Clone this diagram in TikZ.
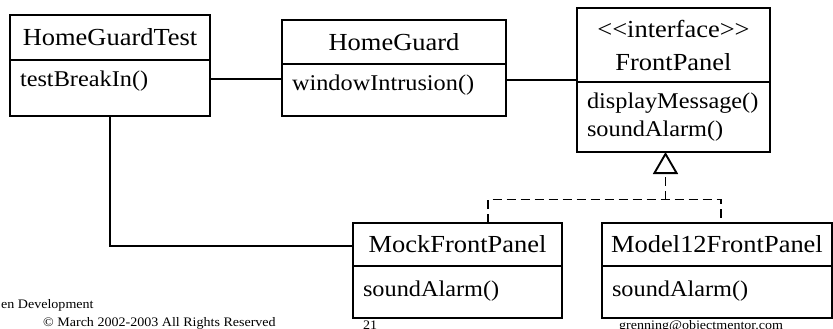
\documentclass[tikz,border=0pt]{standalone}
\usepackage{fontspec}
\setmainfont{Liberation Serif}[FakeStretch=1.08]
\usetikzlibrary{positioning}
\usetikzlibrary{arrows.meta}

\begin{document}
\begin{tikzpicture}[x=1pt,y=-1pt,
    umlhead/.style={draw,line width=1.9pt,outer sep=0pt,anchor=north west,
      inner sep=3pt,align=center,font=\fontsize{24.5}{28}\selectfont},
    umlbody/.style={draw,line width=1.9pt,outer sep=0pt,align=left,
      inner xsep=10pt,inner ysep=0pt,font=\fontsize{22.5}{28}\selectfont},
    assoc/.style={line width=1.9pt},
    realize/.style={line width=1.9pt,dash pattern=on 9pt off 5pt},
    implements/.style={realize,-{Triangle[open,width=25pt,length=22pt]}},
    footer/.style={anchor=base west,inner sep=0pt,font=\fontsize{13}{15}\selectfont}]
  \useasboundingbox (0,0) rectangle (833,329);

  % classes
  \node[umlhead,minimum width=200pt,minimum height=45pt] (hgt) at (10,15) {HomeGuardTest};
  \node[umlbody,below=0pt of hgt,text width=180pt,text height=26pt,text depth=30pt] (hgtops) {testBreakIn()};

  \node[umlhead,minimum width=224pt,minimum height=44pt] (hg) at (282,20) {HomeGuard};
  \node[umlbody,below=0pt of hg,text width=204pt,text height=26pt,text depth=26pt] (hgops) {windowIntrusion()};

  \node[umlhead,minimum width=193pt,minimum height=74pt] (fp) at (577,8) {{<}{<}interface{>}{>}\\[5pt]FrontPanel};
  \node[umlbody,below=0pt of fp,text width=173pt,minimum height=70pt] (fpops) {displayMessage()\\soundAlarm()};

  \node[umlhead,minimum width=209pt,minimum height=43pt] (mock) at (353,223) {MockFrontPanel};
  \node[umlbody,below=0pt of mock,text width=189pt,text height=30pt,text depth=22pt] (mockops) {soundAlarm()};

  \node[umlhead,minimum width=230pt,minimum height=43pt] (model) at (602,223) {Model12FrontPanel};
  \node[umlbody,below=0pt of model,text width=210pt,text height=30pt,text depth=22pt] (modelops) {soundAlarm()};

  % connectors
  \draw[assoc] ([yshift=9pt]hgtops.east) -- ([yshift=9pt]hgtops.east -| hgops.west);
  \draw[assoc] ([yshift=10pt]hgops.east) -- ([yshift=10pt]hgops.east -| fpops.west);
  \draw[assoc] (hgtops.south) |- ([yshift=-1.5pt]mock.west);

  \coordinate (join) at (665.5,199.5);
  \draw[realize] ([xshift=30.5pt]mock.north) |- (join) -| ([xshift=4pt]model.north);
  \draw[implements] (join) -- (join |- fpops.south);

  % footer
  \node[footer] (course) at (1,308) {en Development};
  \node[footer] (copy) at (43,326) {© March 2002-2003 All Rights Reserved};
  \node[footer] (page) at (363,329) {21};
  \node[footer] (mail) at (619,329) {grenning@objectmentor.com};
\end{tikzpicture}
\end{document}
